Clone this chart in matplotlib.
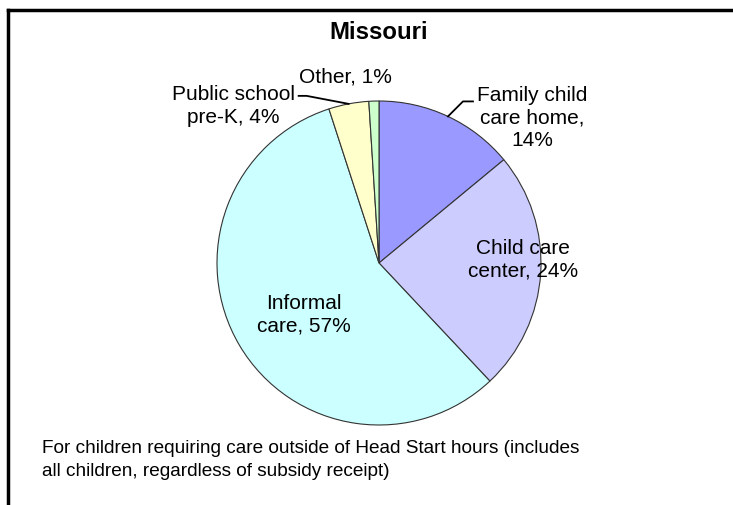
import numpy as np
import matplotlib
matplotlib.use("Agg")
import matplotlib.pyplot as plt

plt.rcParams['font.family'] = ['Liberation Sans', 'DejaVu Sans']

# data
categories = ["Family child\ncare home,", "Child care\ncenter,", "Informal\ncare,",
              "Public school\npre-K,", "Other,"]
shares = [14, 24, 57, 4, 1]
colors = ["#9999FF", "#CCCCFF", "#CCFFFF", "#FFFFCC", "#CCFFCC"]

W, H = 733, 506
fig = plt.figure(figsize=(W / 100, H / 100), dpi=100)
ax = fig.add_axes([0, 0, 1, 1])

cx, cy, r = 379, 264, 162
# y axis is flipped, so counterclock=True draws clockwise on screen
wedges, _ = ax.pie(shares, colors=colors, startangle=-90, counterclock=True,
                   center=(cx, cy), radius=r, frame=True,
                   wedgeprops=dict(edgecolor="#333333", linewidth=0.8))
ax.set_xlim(0, W)
ax.set_ylim(H, 0)
ax.set_aspect('equal')
ax.set_axis_off()

def edge_point(w):
    a = np.deg2rad((w.theta1 + w.theta2) / 2)
    return cx + r * np.cos(a), cy + r * np.sin(a)

labels = [f"{c}\n{v}%" if i == 0 else f"{c} {v}%"
          for i, (c, v) in enumerate(zip(categories, shares))]

fs = 15
ls = 1.25
# Family child care home
p = edge_point(wedges[0])
ax.plot([p[0], p[0] + 15, p[0] + 25], [p[1], p[1] - 15, p[1] - 15], color="black", lw=1.3)
ax.text(532, 118, labels[0], ha="center", va="center", fontsize=fs, linespacing=ls)
# Child care center
ax.text(523, 260, labels[1], ha="center", va="center", fontsize=fs, linespacing=ls)
# Informal care
ax.text(304, 315, labels[2], ha="center", va="center", fontsize=fs, linespacing=ls)
# Public school pre-K
p = edge_point(wedges[3])
ax.plot([p[0], p[0] - 42, p[0] - 50], [p[1], p[1] - 8, p[1] - 8], color="black", lw=1.3)
ax.text(233, 106, labels[3], ha="center", va="center", fontsize=fs, linespacing=ls)
# Other
ax.text(345, 77, labels[4], ha="center", va="center", fontsize=fs)

ax.text(379, 32, "Missouri", ha="center", va="center", fontsize=17.3, fontweight="bold")
ax.text(42, 460, "For children requiring care outside of Head Start hours (includes\n"
        "all children, regardless of subsidy receipt)",
        ha="left", va="center", fontsize=13.7, linespacing=1.4)

# frame: top and left edges only
ax.plot([8, W], [11, 11], color="black", lw=2.5, solid_capstyle="projecting")
ax.plot([8, 8], [11, H], color="black", lw=2.5, solid_capstyle="projecting")

fig.savefig("out.png", dpi=100)
